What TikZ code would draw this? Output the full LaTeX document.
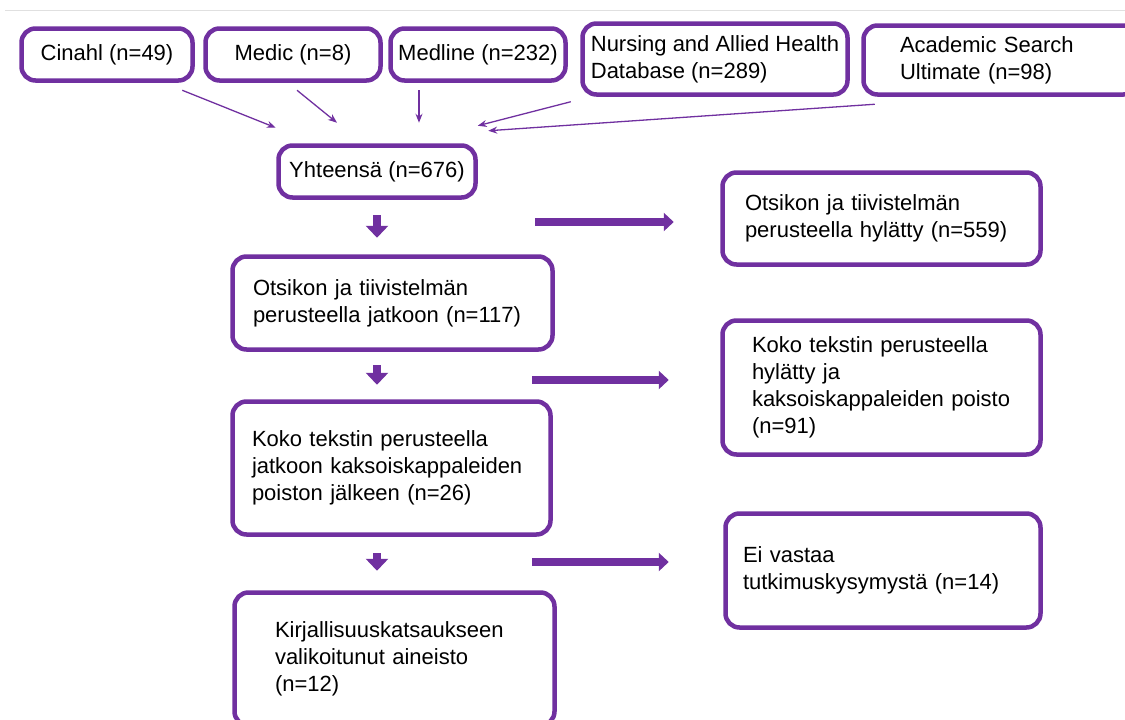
\documentclass[tikz,border=0pt]{standalone}
\usepackage{fontspec}
\setmainfont{Liberation Sans}
\usetikzlibrary{arrows.meta}
\definecolor{vio}{HTML}{7030A0}

\begin{document}
\begin{tikzpicture}[x=1pt,y=-1pt,
  every node/.style={font=\fontsize{22}{27}\selectfont},
  dbbox/.style={draw=vio,line width=4.5pt,rounded corners=14pt,fill=white,inner ysep=0pt},
  stepbox/.style={dbbox,align=left},
  feed/.style={vio,line width=1.3pt,-{Stealth[length=9pt,width=7pt]}},
  godown/.style={vio,line width=8pt,-{Triangle[length=12pt,width=22pt]}},
  goright/.style={vio,line width=8pt,-{Triangle[length=10pt,width=18pt]}}]
  \useasboundingbox (0,0) rectangle (1125,720);
  \clip (0,0) rectangle (1125,720);
  \draw[black!12,line width=1pt] (5,10) -- (1125,10);
  % databases
  \node[dbbox,minimum width=171pt,minimum height=52pt] (cinahl) at (107,54.5) {Cinahl (n=49)};
  \node[dbbox,minimum width=175pt,minimum height=52pt] (medic) at (293,54.5) {Medic (n=8)};
  \node[dbbox,minimum width=175pt,minimum height=52pt] (medline) at (478,54.5) {Medline (n=232)};
  \node[stepbox,minimum width=265pt,minimum height=71pt] (nursing) at (715,59) {Nursing and Allied Health\\Database (n=289)};
  \node[stepbox,text width=201pt,inner xsep=36.5pt,minimum height=69pt] (academic) at (1000.5,60) {Academic Search\\Ultimate (n=98)};
  \node[dbbox,minimum width=197pt,minimum height=52pt] (total) at (377,171.5) {Yhteensä (n=676)};
  % screening steps
  \node[stepbox,text width=279pt,inner xsep=20.5pt,minimum height=93pt] (screen) at (392.5,303) {Otsikon ja tiivistelmän\\perusteella jatkoon (n=117)};
  \node[stepbox,text width=279pt,inner xsep=19.5pt,minimum height=133pt] (full) at (391.5,468) {Koko tekstin perusteella\\jatkoon kaksoiskappaleiden\\poiston jälkeen (n=26)};
  \node[stepbox,text width=239pt,inner xsep=40.5pt,minimum height=133pt] (final) at (394.5,659) {Kirjallisuuskatsaukseen\\valikoitunut aineisto\\(n=12)};
  % excluded
  \node[stepbox,text width=273pt,inner xsep=22.5pt,minimum height=92pt] (rej1) at (881.5,218.5) {Otsikon ja tiivistelmän\\perusteella hylätty (n=559)};
  \node[stepbox,text width=259pt,inner xsep=29.5pt,minimum height=134pt] (rej2) at (881.5,387.5) {Koko tekstin perusteella\\hylätty ja\\kaksoiskappaleiden poisto\\(n=91)};
  \node[stepbox,text width=280pt,inner xsep=17.5pt,minimum height=114pt] (rej3) at (883,570.5) {Ei vastaa\\tutkimuskysymystä (n=14)};
  % search results into total
  \draw[feed] ([shift={(-12.5,7.5)}]cinahl.south east) -- ([shift={(-0.5,-15.5)}]total.north west);
  \draw[feed] ([shift={(4,7.5)}]medic.south) -- ([shift={(-40,-20.5)}]total.north);
  \draw[feed] ([shift={(-59,7.5)}]medline.south) -- ([shift={(42,-20.5)}]total.north);
  \draw[feed] ([shift={(-9.5,5)}]nursing.south west) -- ([shift={(0,-17.5)}]total.north east);
  \draw[feed] ([shift={(13.5,7.5)}]academic.south west) -- ([shift={(10.5,-12.5)}]total.north east);
  % flow down
  \draw[godown,shorten <=15.5pt,shorten >=16.5pt] (total.south) -- (total.south |- screen.north);
  \draw[godown,shorten <=13.5pt,shorten >=14.5pt] (total.south |- screen.south) -- (total.south |- full.north);
  \draw[godown,shorten <=16.5pt,shorten >=19.5pt] (total.south |- full.south) -- (total.south |- final.north);
  % exclusions
  \coordinate (branch1) at (535,222);
  \coordinate (branch2) at (532,380);
  \coordinate (branch3) at (532,562);
  \draw[goright,shorten >=46.5pt] (branch1) -- (branch1 -| rej1.west);
  \draw[goright,shorten >=51.5pt] (branch2) -- (branch2 -| rej2.west);
  \draw[goright,shorten >=54.5pt] (branch3) -- (branch3 -| rej3.west);
\end{tikzpicture}
\end{document}
